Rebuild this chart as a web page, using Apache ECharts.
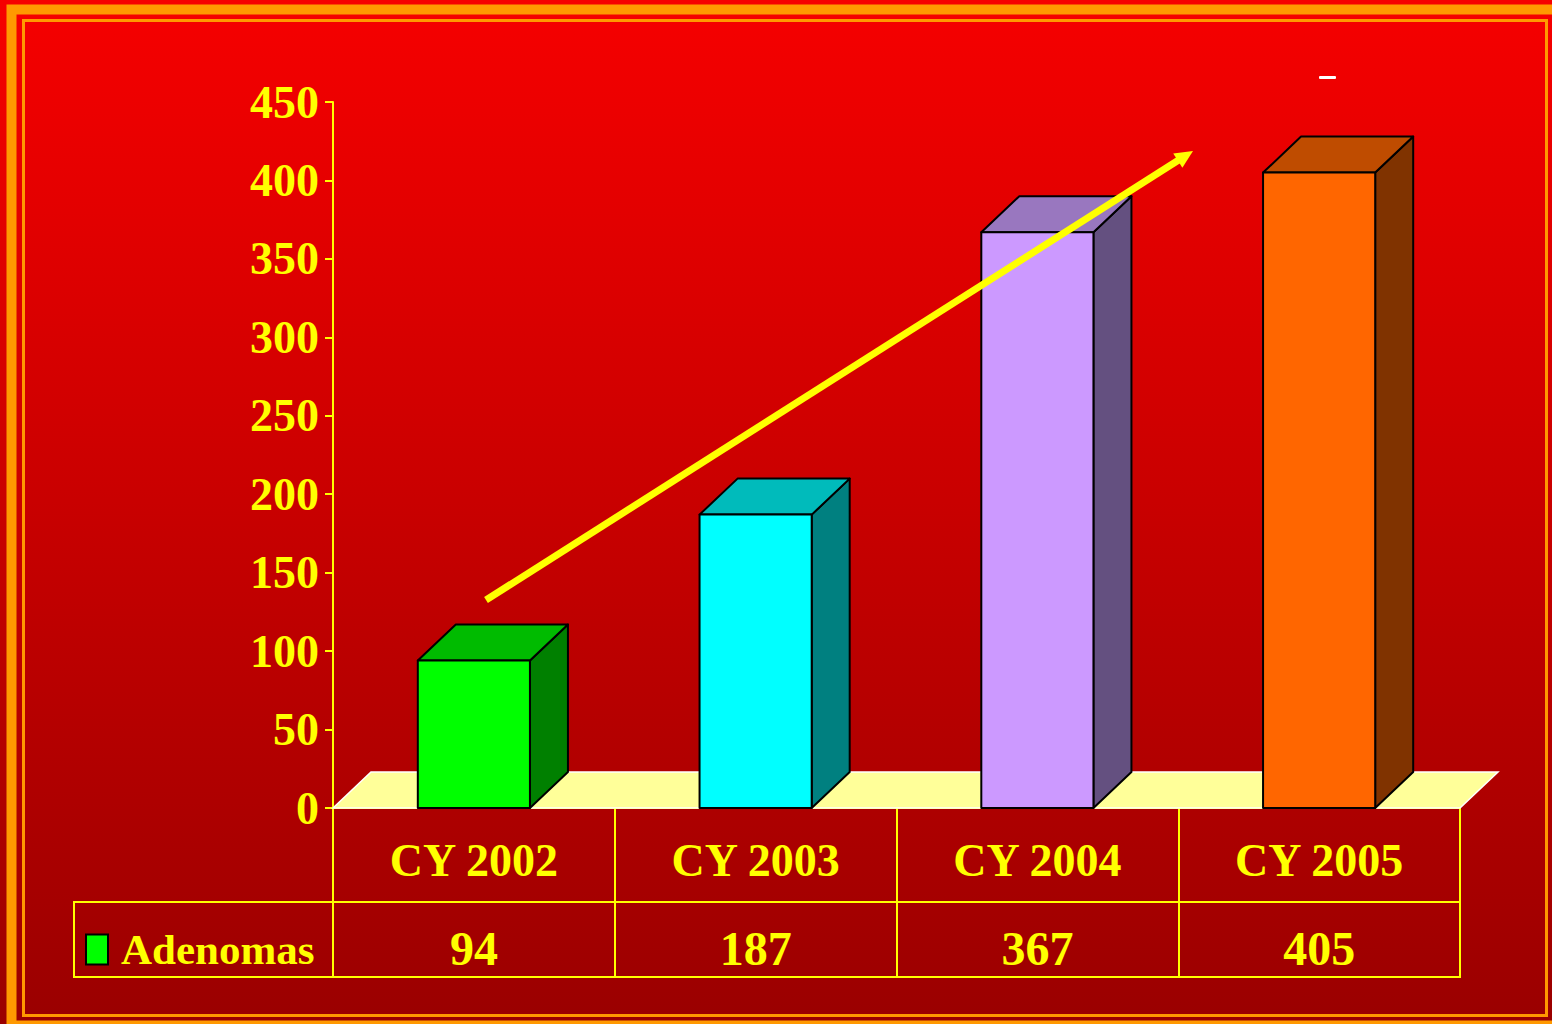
<!DOCTYPE html>
<html>
<head>
<meta charset="utf-8">
<script src="https://cdn.jsdelivr.net/npm/echarts@6/dist/echarts.min.js"></script>
<style>
html,body{margin:0;padding:0;background:#c00000;}
#chart{width:1552px;height:1024px;}
</style>
</head>
<body>
<div id="chart"></div>
<script>
// ---- data ----
const categories = ['CY 2002', 'CY 2003', 'CY 2004', 'CY 2005'];
const adenomas = [94, 187, 367, 405];
const seriesName = 'Adenomas';
const yMin = 0, yMax = 450, yStep = 50;

// ---- styles ----
const frontColors = ['#00ff00', '#00ffff', '#cc99ff', '#ff6600'];
const topColors   = ['#00bb00', '#00bbbb', '#9977bf', '#bf4c00'];
const sideColors  = ['#008000', '#008080', '#645080', '#803300'];
const YEL = '#ffff00';
const ORANGE = '#ff9900';
const FONT = "'Liberation Serif', 'Times New Roman', serif";
const DX = 38, DY = -36;

const G = { left: 333, top: 102, right: 1552 - 1460, bottom: 1024 - 808 };
const gx1 = 1552 - G.right;

const chart = echarts.init(document.getElementById('chart'), null, { renderer: 'svg' });

// arrow geometry (annotation)
const aS = [486, 600], aT = [1193, 151];
const ang = Math.atan2(aT[1] - aS[1], aT[0] - aS[0]);
const hl = 18, hw = 8.5;
const ux = Math.cos(ang), uy = Math.sin(ang);
const bx = aT[0] - ux * hl, by = aT[1] - uy * hl;
const head = [aT, [bx - uy * hw, by + ux * hw], [bx + uy * hw, by - ux * hw]];

const option = {
  backgroundColor: {
    type: 'linear', x: 0, y: 0, x2: 0, y2: 1,
    colorStops: [{ offset: 0, color: '#f60000' }, { offset: 1, color: '#9a0000' }]
  },
  animation: false,
  grid: { left: G.left, top: G.top, right: G.right, bottom: G.bottom, containLabel: false },
  legend: {
    data: [{ name: seriesName, icon: 'rect' }],
    left: 80, top: 923,
    itemWidth: 22, itemHeight: 30,
    itemStyle: { color: '#00ff00', borderColor: '#000', borderWidth: 2 },
    textStyle: { color: YEL, fontFamily: FONT, fontWeight: 'bold', fontSize: 43, padding: [0, 0, 0, 8] },
    selectedMode: false
  },
  xAxis: [
    {
      type: 'category', data: categories, boundaryGap: true,
      axisLine: { show: true, lineStyle: { color: YEL, width: 2 } },
      axisTick: { show: true, length: 169, lineStyle: { color: YEL, width: 2 } },
      axisLabel: { color: YEL, fontFamily: FONT, fontWeight: 'bold', fontSize: 46, margin: 29 },
      splitLine: { show: false }
    },
    {
      type: 'category', data: categories, boundaryGap: true, position: 'bottom',
      axisLine: { show: false }, axisTick: { show: false },
      axisLabel: {
        color: YEL, fontFamily: FONT, fontWeight: 'bold', fontSize: 48, margin: 116,
        formatter: (v, i) => String(adenomas[i])
      }
    }
  ],
  yAxis: {
    type: 'value', min: yMin, max: yMax, interval: yStep,
    axisLine: { show: true, lineStyle: { color: YEL, width: 2 } },
    axisTick: { show: true, length: 8, lineStyle: { color: YEL, width: 2 } },
    axisLabel: { color: YEL, fontFamily: FONT, fontWeight: 'bold', fontSize: 46, margin: 14 },
    splitLine: { show: false }
  },
  series: [
    {
      name: 'floor', type: 'custom', silent: true, z: 1,
      data: [[0, 0]],
      renderItem: (params, api) => {
        const cs = params.coordSys;
        const x0 = cs.x, x1 = cs.x + cs.width, y = cs.y + cs.height;
        return {
          type: 'polygon',
          shape: { points: [[x0, y], [x0 + DX, y + DY], [x1 + DX, y + DY], [x1, y]] },
          style: { fill: '#ffff99', stroke: '#ffffff', lineWidth: 1.5 }
        };
      }
    },
    {
      name: seriesName, type: 'custom', z: 3,
      itemStyle: { color: '#00ff00' },
      data: adenomas.map((v, i) => [i, v]),
      renderItem: (params, api) => {
        const i = api.value(0), v = api.value(1);
        const base = api.coord([i, 0]), top = api.coord([i, v]);
        const bw = api.size([1, 0])[0] * 0.398;
        const x0 = base[0] - bw / 2, x1 = base[0] + bw / 2, yt = top[1], yb = base[1];
        const st = { stroke: '#000', lineWidth: 2, lineJoin: 'round' };
        return {
          type: 'group',
          children: [
            { type: 'polygon', shape: { points: [[x1, yt], [x1 + DX, yt + DY], [x1 + DX, yb + DY], [x1, yb]] },
              style: Object.assign({ fill: sideColors[i] }, st) },
            { type: 'polygon', shape: { points: [[x0, yt], [x0 + DX, yt + DY], [x1 + DX, yt + DY], [x1, yt]] },
              style: Object.assign({ fill: topColors[i] }, st) },
            { type: 'polygon', shape: { points: [[x0, yt], [x1, yt], [x1, yb], [x0, yb]] },
              style: Object.assign({ fill: frontColors[i] }, st) }
          ]
        };
      }
    }
  ],
  graphic: [
    // slide borders
    { type: 'rect', silent: true, z: 0, shape: { x: 11.5, y: 9.5, width: 1580, height: 1016 },
      style: { fill: 'none', stroke: ORANGE, lineWidth: 10 } },
    { type: 'rect', silent: true, z: 0, shape: { x: 23.5, y: 20.5, width: 1523, height: 995 },
      style: { fill: 'none', stroke: ORANGE, lineWidth: 3 } },
    // table lines
    { type: 'line', silent: true, z: 5, shape: { x1: 74, y1: 902, x2: gx1 + 1, y2: 902 }, style: { stroke: YEL, lineWidth: 2 } },
    { type: 'line', silent: true, z: 5, shape: { x1: 74, y1: 977, x2: gx1 + 1, y2: 977 }, style: { stroke: YEL, lineWidth: 2 } },
    { type: 'line', silent: true, z: 5, shape: { x1: 74, y1: 901, x2: 74, y2: 978 }, style: { stroke: YEL, lineWidth: 2 } },
    // trend arrow
    { type: 'line', silent: true, z: 10, shape: { x1: aS[0], y1: aS[1], x2: bx + ux * 2, y2: by + uy * 2 },
      style: { stroke: YEL, lineWidth: 7 } },
    { type: 'polygon', silent: true, z: 10, shape: { points: head }, style: { fill: YEL } },
    // small white dash
    { type: 'rect', silent: true, z: 5, shape: { x: 1319, y: 76, width: 17, height: 3, r: 1 }, style: { fill: '#ffffff' } }
  ]
};
chart.setOption(option);
</script>
</body>
</html>
